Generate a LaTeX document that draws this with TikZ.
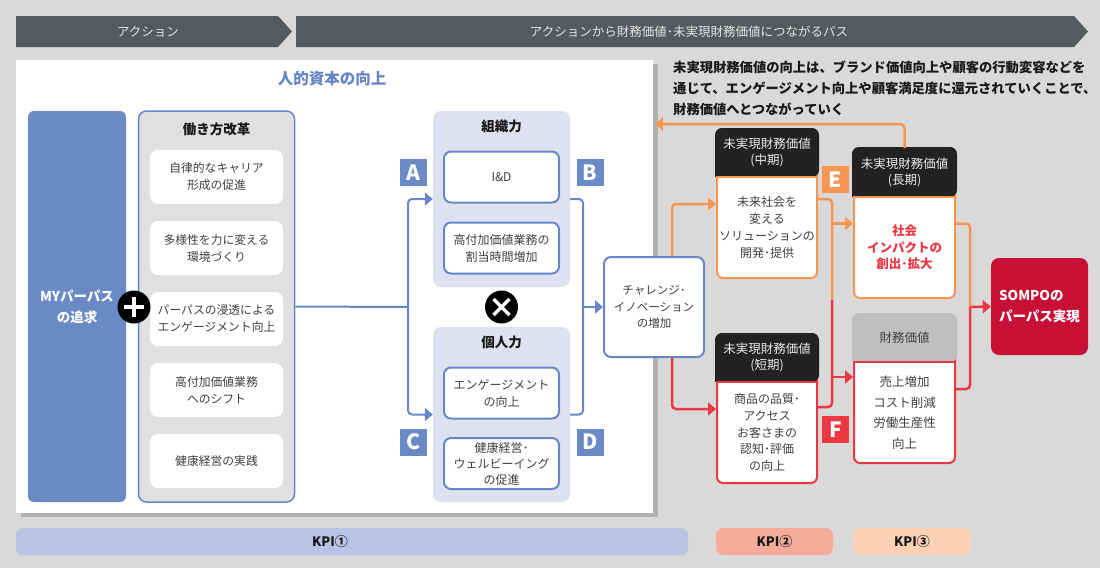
\documentclass[tikz,border=0pt]{standalone}
\usepackage{fontspec}
\setmainfont{Noto Sans CJK JP}
\usetikzlibrary{arrows.meta}
\usetikzlibrary{positioning}
\usetikzlibrary{shadows}

\definecolor{bggray}{RGB}{217,217,217}
\definecolor{bannergray}{RGB}{85,90,92}
\definecolor{myblue}{RGB}{106,138,198}
\definecolor{lineblue}{RGB}{104,134,200}
\definecolor{titleblue}{RGB}{100,132,197}
\definecolor{grpblue}{RGB}{222,226,240}
\definecolor{grpgray}{RGB}{224,224,224}
\definecolor{vorange}{RGB}{247,150,80}
\definecolor{vred}{RGB}{236,56,66}
\definecolor{sompored}{RGB}{200,16,55}
\definecolor{headblack}{RGB}{34,34,34}
\definecolor{headgray}{RGB}{191,191,191}
\definecolor{txtgray}{RGB}{64,64,64}
\definecolor{kpione}{RGB}{184,195,230}
\definecolor{kpitwo}{RGB}{245,172,155}
\definecolor{kpithree}{RGB}{251,211,180}

\tikzset{
  banner/.style={fill=bannergray},
  bannertxt/.style={text=black!10, font=\fontsize{12.5}{15}\selectfont},
  item/.style={fill=white, rounded corners=8pt, minimum width=133pt, minimum height=54pt, inner sep=0pt, align=center, text=txtgray, font=\fontsize{11.8}{17}\selectfont},
  grp/.style={rounded corners=8pt, minimum width=137pt, inner sep=0pt},
  grptitle/.style={font=\fontsize{13.5}{16}\selectfont\bfseries, text=black!90},
  forcebox/.style={draw=lineblue, line width=2pt, fill=white, rounded corners=7pt, minimum width=115pt, minimum height=51pt, inner sep=0pt, align=center, text=txtgray, font=\fontsize{12}{17}\selectfont},
  letter/.style={fill=#1, text=white, minimum size=27pt, inner sep=0pt, font=\fontsize{21}{21}\selectfont\bfseries},
  vframe/.style={draw=#1, line width=2pt, fill=white, rounded corners=6pt, minimum width=100pt, inner sep=0pt},
  vhead/.style={align=center, text=black!8, font=\fontsize{12.5}{16}\selectfont},
  vbody/.style={align=center, text=txtgray, font=\fontsize{12}{16.7}\selectfont},
  bline/.style={draw=lineblue, line width=2pt, rounded corners=4pt},
  barrow/.style={bline, -{Triangle[length=8pt,width=13pt]}},
  oline/.style={draw=vorange, line width=2.5pt, rounded corners=4pt},
  oarrow/.style={oline, -{Triangle[length=8pt,width=13pt]}},
  rline/.style={draw=vred, line width=2.5pt, rounded corners=4pt},
  rarrow/.style={rline, -{Triangle[length=8pt,width=13pt]}},
  kpi/.style={fill=#1, rounded corners=7pt, minimum height=27pt, inner sep=0pt},
  kpitxt/.style={font=\fontsize{13}{15}\selectfont\bfseries, text=black!90},
  op/.style={circle, fill=black, minimum size=33pt, inner sep=0pt},
}

\begin{document}
\begin{tikzpicture}[x=1pt,y=-1pt]
\useasboundingbox (0,0) rectangle (1100,568);
\fill[bggray] (0,0) rectangle (1100,568);

% banners
\fill[banner] (16,16) -- (278,16) -- (292,31.5) -- (278,47) -- (16,47) -- cycle;
\node[bannertxt] (act) at (148,31.5) {アクション};
\fill[banner] (296,16) -- (1074,16) -- (1088,31.5) -- (1074,47) -- (296,47) -- cycle;
\node[bannertxt] (pass) at (689,31.5) {アクションから財務価値･未実現財務価値につながるパス};

% human capital panel
\node[fill=white, minimum width=637pt, minimum height=453pt, inner sep=0pt,
  drop shadow={shadow xshift=5pt, shadow yshift=-4pt, fill=black, opacity=0.18}] (panel) at (334.5,286.5) {};
\node[font=\fontsize{15.5}{18}\selectfont\bfseries, text=titleblue] (title) at (332,79) {人的資本の向上};

\node[fill=myblue, rounded corners=6pt, minimum width=98pt, minimum height=391pt, inner sep=0pt,
  align=center, text=white, font=\fontsize{13.5}{21}\selectfont\bfseries] (my) at (77,306.5) {MYパーパス\\の追求};

\node[grp, fill=grpgray, draw=lineblue, line width=1.5pt, minimum width=156pt, minimum height=391pt] (work) at (216.5,306.5) {};
\node[grptitle] (worktitle) at (216.5,129) {働き方改革};
\foreach \t [count=\i] in {{自律的なキャリア\\形成の促進},{多様性を力に変える\\環境づくり},{パーパスの浸透による\\エンゲージメント向上},{高付加価値業務\\へのシフト},{健康経営の実践}}{
  \node[item] (item\i) at (216.5,106+71*\i) {\t};
}

\node[op] (plus) at (134,307) {};
\draw[white, line width=3.5pt] ([xshift=-10pt]plus.center) -- ([xshift=10pt]plus.center);
\draw[white, line width=3.5pt] ([yshift=-10pt]plus.center) -- ([yshift=10pt]plus.center);

% organisation and individual
\node[grp, fill=grpblue, minimum height=176pt] (org) at (501.5,199) {};
\node[grptitle] (orgtitle) at (501.5,126) {組織力};
\node[forcebox] (id) at (501.5,177) {I\&D};
\node[forcebox] (alloc) at (501.5,248) {高付加価値業務の\\割当時間増加};

\node[grp, fill=grpblue, minimum height=175pt] (ind) at (501.5,414.5) {};
\node[grptitle] (indtitle) at (501.5,342) {個人力};
\node[forcebox] (eng) at (501.5,393) {エンゲージメント\\の向上};
\node[forcebox, font=\fontsize{12}{16}\selectfont] (well) at (501.5,463.5) {健康経営･\\ウェルビーイング\\の促進};

\node[op] (cross) at (501.5,307) {};
\draw[white, line width=3.5pt] ([shift={(-8pt,-8pt)}]cross.center) -- ([shift={(8pt,8pt)}]cross.center);
\draw[white, line width=3.5pt] ([shift={(-8pt,8pt)}]cross.center) -- ([shift={(8pt,-8pt)}]cross.center);

\node[letter=myblue] (la) at (413,172.5) {A};
\node[letter=myblue] (lb) at (590,172.5) {B};
\node[letter=myblue] (lc) at (413,442) {C};
\node[letter=myblue] (ld) at (590,442) {D};

\node[forcebox, minimum width=100pt, minimum height=100pt, font=\fontsize{11.5}{16.5}\selectfont] (chal) at (654,307) {チャレンジ･\\イノベーション\\の増加};

% blue connectors
\coordinate (split) at (408,307);
\draw[bline] (work.east) -- (split);
\draw[barrow] (split) |- (org.west);
\draw[barrow] (split) |- (ind.west);
\coordinate (merge) at (583,307);
\draw[bline] (org.east) -| (merge);
\draw[bline] (ind.east) -| (merge);
\draw[barrow] (merge) -- (chal.west);

% note
\node[anchor=north west, align=left, inner sep=0pt, text=black!90,
  font=\fontsize{13.3}{21}\selectfont\bfseries] (note) at (673,61) {未実現財務価値の向上は、ブランド価値向上や顧客の行動変容などを\\通じて、エンゲージメント向上や顧客満足度に還元されていくことで、\\財務価値へとつながっていく};

% value boxes
\node[vframe=vorange, minimum height=148pt] (mid) at (767,204) {};
\filldraw[headblack, line width=2pt, rounded corners=6pt] ([yshift=-47pt]mid.north west) |- (mid.north) -| ([yshift=-47pt]mid.north east) [sharp corners] -- cycle;
\draw[vorange, line width=2pt] ([yshift=-48pt]mid.north west) -- ([yshift=-48pt]mid.north east);
\node[vhead] (midh) at ([yshift=-23.5pt]mid.north) {未実現財務価値\\(中期)};
\node[vbody] (midb) at ([yshift=-23.5pt]mid.center) {未来社会を\\変える\\ソリューションの\\開発･提供};

\node[vframe=vred, minimum height=148pt] (short) at (767,409) {};
\filldraw[headblack, line width=2pt, rounded corners=6pt] ([yshift=-47pt]short.north west) |- (short.north) -| ([yshift=-47pt]short.north east) [sharp corners] -- cycle;
\draw[vred, line width=2pt] ([yshift=-48pt]short.north west) -- ([yshift=-48pt]short.north east);
\node[vhead] (shorth) at ([yshift=-23.5pt]short.north) {未実現財務価値\\(短期)};
\node[vbody] (shortb) at ([yshift=-23.5pt]short.center) {商品の品質･\\アクセス\\お客さまの\\認知･評価\\の向上};

\node[vframe=vorange, minimum width=101pt, minimum height=149pt] (long) at (904.5,223.5) {};
\filldraw[headblack, line width=2pt, rounded corners=6pt] ([yshift=-48pt]long.north west) |- (long.north) -| ([yshift=-48pt]long.north east) [sharp corners] -- cycle;
\draw[vorange, line width=2pt] ([yshift=-49pt]long.north west) -- ([yshift=-49pt]long.north east);
\node[vhead] (longh) at ([yshift=-24pt]long.north) {未実現財務価値\\(長期)};
\node[vbody, text=vred, font=\fontsize{12.5}{16.5}\selectfont\bfseries] (longb) at ([yshift=-24pt]long.center) {社会\\インパクトの\\創出･拡大};

\node[vframe=vred, minimum width=101pt, minimum height=148pt] (fin) at (904.5,389) {};
\filldraw[headgray, line width=2pt, rounded corners=6pt] ([yshift=-47pt]fin.north west) |- (fin.north) -| ([yshift=-47pt]fin.north east) [sharp corners] -- cycle;
\draw[vred, line width=2pt] ([yshift=-48pt]fin.north west) -- ([yshift=-48pt]fin.north east);
\node[vhead, text=txtgray] (finh) at ([yshift=-23.5pt]fin.north) {財務価値};
\node[vbody, font=\fontsize{12.5}{20.5}\selectfont] (finb) at ([yshift=-23.5pt]fin.center) {売上増加\\コスト削減\\労働生産性\\向上};

\node[fill=sompored, rounded corners=8pt, minimum width=97pt, minimum height=97pt, inner sep=0pt,
  align=left, text=white, font=\fontsize{13.5}{21}\selectfont\bfseries] (sompo) at (1039.5,306.5) {SOMPOの\\パーパス実現};

\node[letter=vorange] (le) at (835.5,179.5) {E};
\node[letter=vred] (lf) at (835.5,429.5) {F};

% value connectors
\draw[oarrow] ([xshift=18pt]chal.north) |- (mid.west);
\draw[rarrow] ([xshift=18pt]chal.south) |- (short.west);
\coordinate (busE) at (832,300);
\draw[oline] ([yshift=5pt]mid.east) -| (busE);
\draw[rline] ([yshift=2pt]short.east) -| (busE);
\draw[oarrow] (busE |- long.west) -- (long.west);
\coordinate (finin) at ([yshift=12pt]fin.west);
\draw[rarrow] (busE |- finin) -- (finin);
\coordinate (busS) at (970,307);
\draw[oline] (long.east) -| (busS);
\draw[rline] (fin.east) -| (busS);
\draw[rarrow] (busS) -- (sompo.west);
\coordinate (back) at (655,124);
\draw[oarrow] (long.north) |- (back);

% KPI bars
\node[kpi=kpione, minimum width=672pt] (kpi1) at (352,541.5) {};
\node[kpitxt] (kpi1txt) at (330,541.5) {KPI①};
\node[kpi=kpitwo, minimum width=117pt] (kpi2) at (774.5,541.5) {};
\node[kpitxt] (kpi2txt) at (774.5,541.5) {KPI②};
\node[kpi=kpithree, minimum width=118pt] (kpi3) at (912,541.5) {};
\node[kpitxt] (kpi3txt) at (912,541.5) {KPI③};
\end{tikzpicture}
\end{document}
